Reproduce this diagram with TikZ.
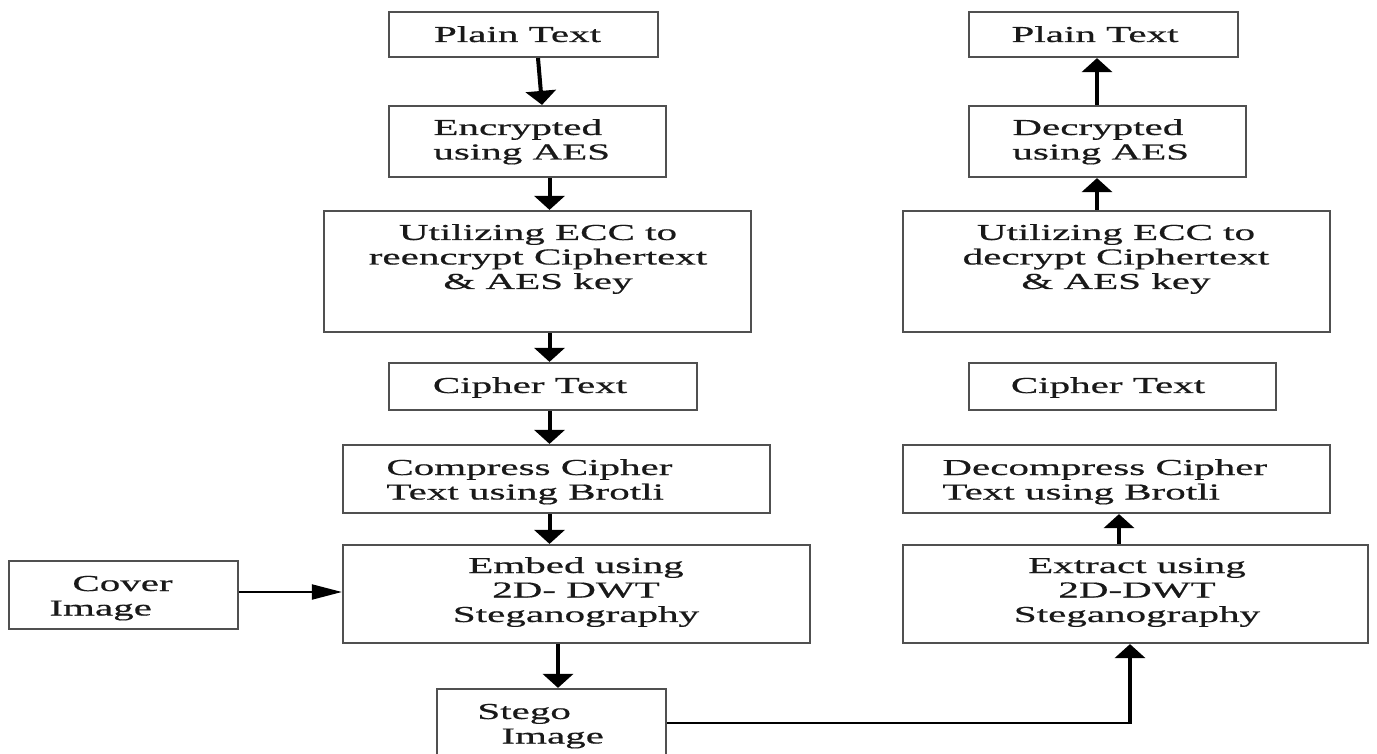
\documentclass[tikz,border=0pt]{standalone}
\usepackage{fontspec}
\setmainfont{Liberation Serif}[FakeStretch=1.8,FakeBold=0.6]
\usetikzlibrary{arrows.meta}
\newcommand{\mycenterblock}[1]{\begin{tabular}[t]{@{}c@{}}#1\end{tabular}}
\newcommand{\myleftblock}[1]{\begin{tabular}[t]{@{}l@{}}#1\end{tabular}}
\definecolor{boxgray}{RGB}{80,80,80}
\definecolor{txtgray}{RGB}{25,25,25}
\begin{document}
\begin{tikzpicture}[x=0.5pt,y=-0.5pt,
  box/.style={draw=boxgray, line width=1.1pt, inner sep=0pt, rectangle},
  txt/.style={anchor=base, inner sep=0pt, text=txtgray, font=\fontsize{11.4}{12.25}\selectfont},
  txtl/.style={txt, anchor=base west},
  varr/.style={line width=2pt, -{Triangle[width=15pt,length=7pt]}},
  harr/.style={line width=1pt, -{Triangle[width=7.5pt,length=15pt]}},
  hline/.style={line width=1pt}]
\useasboundingbox (0,0) rectangle (1377,754);
\clip (0,0) rectangle (1377,754);
\fill[white] (0,0) rectangle (1377,754);

% left column boxes
\node[box, minimum width=134.5pt, minimum height=22.5pt] (pL) at (523.5,34.5) {};
\node[box, minimum width=138.5pt, minimum height=35.5pt] (eL) at (527.5,141.5) {};
\node[box, minimum width=213.5pt, minimum height=60.5pt] (uL) at (537.5,271.5) {};
\node[box, minimum width=154pt, minimum height=23.5pt] (cL) at (543,386.5) {};
\node[box, minimum width=213.5pt, minimum height=34pt] (zL) at (556.5,479) {};
\node[box, minimum width=233.5pt, minimum height=49pt] (mL) at (576.5,594) {};
\node[box, minimum width=114.5pt, minimum height=34pt] (cover) at (123.5,595) {};
\node[box, minimum width=114.5pt, minimum height=34pt] (stego) at (551.5,723) {};

% right column boxes
\node[box, minimum width=134.5pt, minimum height=22.5pt] (pR) at (1103.5,34.5) {};
\node[box, minimum width=138.5pt, minimum height=35.5pt] (dR) at (1107.5,141.5) {};
\node[box, minimum width=213.5pt, minimum height=60.5pt] (uR) at (1116.5,271.5) {};
\node[box, minimum width=153.5pt, minimum height=23.5pt] (cR) at (1122.5,386.5) {};
\node[box, minimum width=213.5pt, minimum height=34pt] (zR) at (1116.5,479) {};
\node[box, minimum width=232.5pt, minimum height=49pt] (xR) at (1135.5,594) {};

% left texts
\node[txt] (pLt) at (517.5,42) {\mycenterblock{Plain Text}};
\node[txtl] (eLt) at (433,135) {\myleftblock{Encrypted\\using AES}};
\node[txt] (uLt) at (538,240) {\mycenterblock{Utilizing ECC to\\reencrypt Ciphertext\\\& AES key}};
\node[txt] (cLt) at (530,393) {\mycenterblock{Cipher Text}};
\node[txtl] (zLt) at (386,475) {\myleftblock{Compress Cipher\\Text using Brotli}};
\node[txt] (mLt) at (576,573) {\mycenterblock{Embed using\\2D- DWT\\Steganography}};
\node[txtl] (covt) at (49,591) {\myleftblock{\hspace*{11.5pt}Cover\\Image}};
\node[txtl] (stgt) at (477,719) {\myleftblock{Stego\\\hspace*{12pt}Image}};

% right texts
\node[txt] (pRt) at (1095,42) {\mycenterblock{Plain Text}};
\node[txtl] (dRt) at (1012,135) {\myleftblock{Decrypted\\using AES}};
\node[txt] (uRt) at (1116,240) {\mycenterblock{Utilizing ECC to\\decrypt Ciphertext\\\& AES key}};
\node[txt] (cRt) at (1108,393) {\mycenterblock{Cipher Text}};
\node[txtl] (zRt) at (942,475) {\myleftblock{Decompress Cipher\\Text using Brotli}};
\node[txt] (xRt) at (1137,573) {\mycenterblock{Extract using\\2D-DWT\\Steganography}};

% left arrows
\draw[varr] ([xshift=7.25pt]pL.south) -- ([xshift=7.25pt]eL.north);
\coordinate (xA) at (549.5,0);
\draw[varr] (eL.south -| xA) -- (uL.north -| xA);
\draw[varr] (uL.south -| xA) -- (cL.north -| xA);
\draw[varr] (cL.south -| xA) -- (zL.north -| xA);
\draw[varr] (zL.south -| xA) -- (mL.north -| xA);
\coordinate (xB) at (558,0);
\draw[varr] (mL.south -| xB) -- (stego.north -| xB);
\draw[harr] ([yshift=1.5pt]cover.east) -- ([yshift=1.5pt]cover.east -| mL.west);

% right arrows
\coordinate (xC) at (1097,0);
\draw[varr] (dR.north -| xC) -- (pR.south -| xC);
\draw[varr] (uR.north -| xC) -- (dR.south -| xC);
\coordinate (xD) at (1119,0);
\draw[varr] (xR.north -| xD) -- (zR.south -| xD);

% stego to extract
\coordinate (xE) at (1130,0);
\coordinate (elbow) at (stego.east -| xE);
\draw[hline] (stego.east) -- (elbow);
\draw[varr, shorten <=-0.5pt] (elbow) -- (xR.south -| xE);
\end{tikzpicture}
\end{document}
